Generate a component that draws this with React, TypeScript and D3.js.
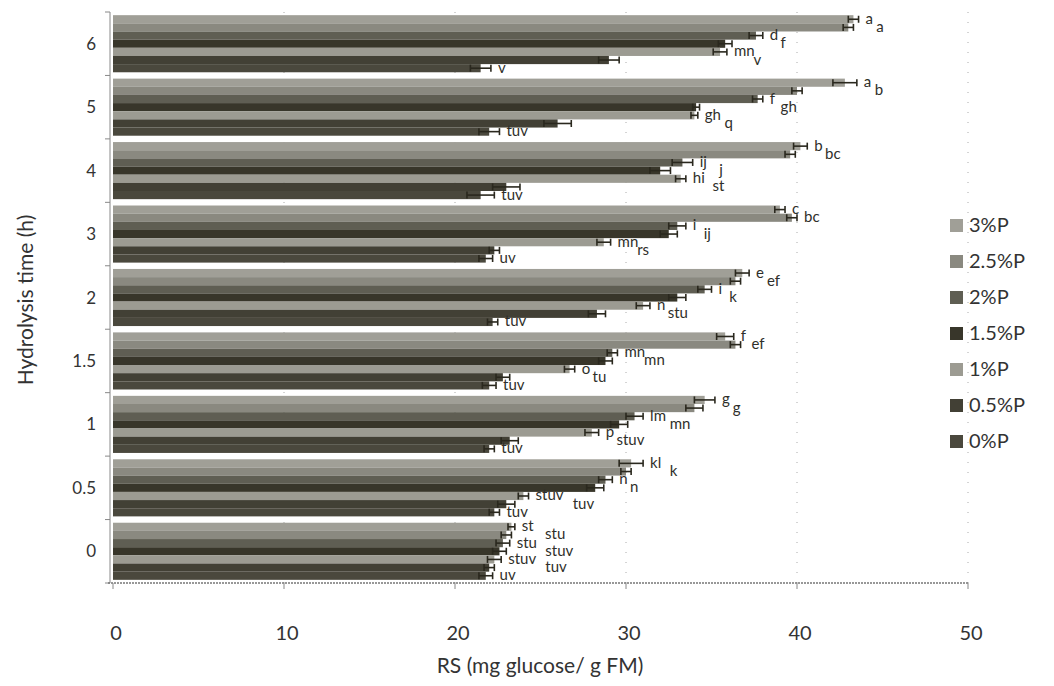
import React from "react";
import * as d3 from "d3";

const groups = ["6", "5", "4", "3", "2", "1.5", "1", "0.5", "0"];
const seriesNames = ["3%P", "2.5%P", "2%P", "1.5%P", "1%P", "0.5%P", "0%P"];
const seriesColors = ["#a09f97", "#8a8980", "#5f5e53", "#38362a", "#9c9b92", "#424035", "#4a483d"];

// values per series, in group order 6,5,4,3,2,1.5,1,0.5,0
const p3 = [43.3, 42.8, 40.2, 39.0, 36.8, 35.8, 34.6, 30.3, 23.3];
const p25 = [43.0, 40.0, 39.6, 39.7, 36.4, 36.4, 34.0, 30.0, 23.0];
const p2 = [37.6, 37.7, 33.3, 33.0, 34.6, 29.2, 30.5, 28.8, 22.8];
const p15 = [35.8, 34.1, 32.0, 32.5, 33.0, 28.8, 29.6, 28.2, 22.6];
const p1 = [35.5, 34.0, 33.2, 28.7, 31.0, 26.7, 28.0, 24.0, 22.3];
const p05 = [29.0, 26.0, 23.0, 22.3, 28.3, 22.8, 23.2, 23.0, 22.0];
const p0 = [21.5, 22.0, 21.5, 21.8, 22.2, 22.0, 22.0, 22.3, 21.8];

const e3 = [0.3, 0.7, 0.4, 0.3, 0.4, 0.5, 0.6, 0.7, 0.2];
const e25 = [0.3, 0.3, 0.3, 0.3, 0.3, 0.3, 0.5, 0.3, 0.3];
const e2 = [0.4, 0.3, 0.6, 0.5, 0.4, 0.3, 0.5, 0.4, 0.4];
const e15 = [0.4, 0.2, 0.6, 0.5, 0.5, 0.4, 0.5, 0.5, 0.4];
const e1 = [0.4, 0.2, 0.3, 0.4, 0.4, 0.3, 0.4, 0.3, 0.4];
const e05 = [0.6, 0.8, 0.8, 0.3, 0.5, 0.4, 0.5, 0.5, 0.3];
const e0 = [0.6, 0.6, 0.8, 0.4, 0.3, 0.4, 0.3, 0.3, 0.4];

const l3 = ["a", "a", "b", "c", "e", "f", "g", "kl", "st"];
const l25 = ["a", "b", "bc", "bc", "ef", "ef", "g", "k", "stu"];
const l2 = ["d", "f", "ij", "i", "i", "mn", "lm", "n", "stu"];
const l15 = ["f", "gh", "j", "ij", "k", "mn", "mn", "n", "stuv"];
const l1 = ["mn", "gh", "hi", "mn", "n", "o", "p", "stuv", "stuv"];
const l05 = ["v", "q", "st", "rs", "stu", "tu", "stuv", "tuv", "tuv"];
const l0 = ["v", "tuv", "tuv", "uv", "tuv", "tuv", "tuv", "tuv", "uv"];

const xTicks = [0, 10, 20, 30, 40, 50];

const seriesValues = [p3, p25, p2, p15, p1, p05, p0];
const seriesErrors = [e3, e25, e2, e15, e1, e05, e0];
const seriesLabels = [l3, l25, l2, l15, l1, l05, l0];

export default function App() {
  const W = 1054, H = 686;
  const x = d3.scaleLinear().domain([0, 50]).range([113, 968]);
  const y = d3.scaleBand<string>().domain(groups).range([12, 583]).paddingInner(0.1).paddingOuter(0.05);
  const yi = d3.scaleBand<string>().domain(seriesNames).range([0, y.bandwidth()]).paddingInner(0);
  const font = "Lato, 'Open Sans', sans-serif";
  const boundaries = groups.map((g) => (y(g) as number) - (y.step() - y.bandwidth()) / 2).concat([583]);
  const fs = 15;
  const charW = 8.8;

  // even rows sit at the bar end; odd rows step right of their even neighbours
  const labelX = groups.map((g, gi) => {
    const nat = seriesNames.map((s, si) => x(seriesValues[si][gi] + seriesErrors[si][gi]) + 7);
    const endOf = (si: number) => nat[si] + seriesLabels[si][gi].length * charW;
    return nat.map((n, si) => {
      if (si % 2 === 0) return n;
      let lx = n;
      if (si - 1 >= 0) lx = Math.max(lx, endOf(si - 1) + 2);
      if (si + 1 < nat.length) lx = Math.max(lx, endOf(si + 1) + 2);
      return lx;
    });
  });

  return (
    <svg width={W} height={H} style={{ position: "absolute", left: 0, top: 0, background: "#fff" }} fontFamily={font}>
      {xTicks.slice(1).map((t) => (
        <line key={"g" + t} x1={x(t)} x2={x(t)} y1={12} y2={583} stroke="#aaa" strokeWidth={1} strokeDasharray="1,9" />
      ))}
      {groups.map((g, gi) => (
        <g key={g} transform={`translate(0,${y(g)})`}>
          {seriesNames.map((s, si) => {
            const v = seriesValues[si][gi];
            const e = seriesErrors[si][gi];
            const by = yi(s) as number;
            const bh = yi.bandwidth();
            const cy = by + bh / 2;
            return (
              <g key={s}>
                <rect x={x(0)} y={by} width={x(v) - x(0)} height={bh} fill={seriesColors[si]} />
                <line x1={x(v - e)} x2={x(v + e)} y1={cy} y2={cy} stroke="#2a281e" strokeWidth={1.6} />
                <line x1={x(v - e)} x2={x(v - e)} y1={cy - 3.5} y2={cy + 3.5} stroke="#2a281e" strokeWidth={1.6} />
                <line x1={x(v + e)} x2={x(v + e)} y1={cy - 3.5} y2={cy + 3.5} stroke="#2a281e" strokeWidth={1.6} />
                <text x={labelX[gi][si]} y={cy + 4.5} fontSize={fs} fill="#2f2f2a">{seriesLabels[si][gi]}</text>
              </g>
            );
          })}
        </g>
      ))}
      <line x1={110} x2={110} y1={12} y2={583} stroke="#888" strokeWidth={1} />
      {boundaries.map((b, i) => (
        <line key={"yt" + i} x1={105} x2={110} y1={b} y2={b} stroke="#888" />
      ))}
      {groups.map((g) => (
        <text key={"yl" + g} x={96} y={(y(g) as number) + y.bandwidth() / 2 + 6} textAnchor="end" fontSize={17} fill="#333">{g}</text>
      ))}
      <line x1={108} x2={968} y1={583} y2={583} stroke="#777" strokeWidth={1.3} strokeDasharray="2,1" />
      {xTicks.map((t) => (
        <g key={"xt" + t}>
          <line x1={x(t)} x2={x(t)} y1={583} y2={589} stroke="#888" />
          <text x={x(t) + 3} y={640} textAnchor="middle" fontSize={20} fill="#333">{t}</text>
        </g>
      ))}
      <text x={540} y={673} textAnchor="middle" fontSize={21} fill="#333">RS (mg glucose/ g FM)</text>
      <text transform="translate(33,300) rotate(-90)" textAnchor="middle" fontSize={21} fill="#333">Hydrolysis time (h)</text>
      {seriesNames.map((s, i) => (
        <g key={"lg" + s} transform={`translate(950,${225 + i * 36})`}>
          <rect x={0} y={-6} width={13} height={13} fill={seriesColors[i]} />
          <text x={19} y={7} fontSize={20} fill="#333">{s}</text>
        </g>
      ))}
    </svg>
  );
}
